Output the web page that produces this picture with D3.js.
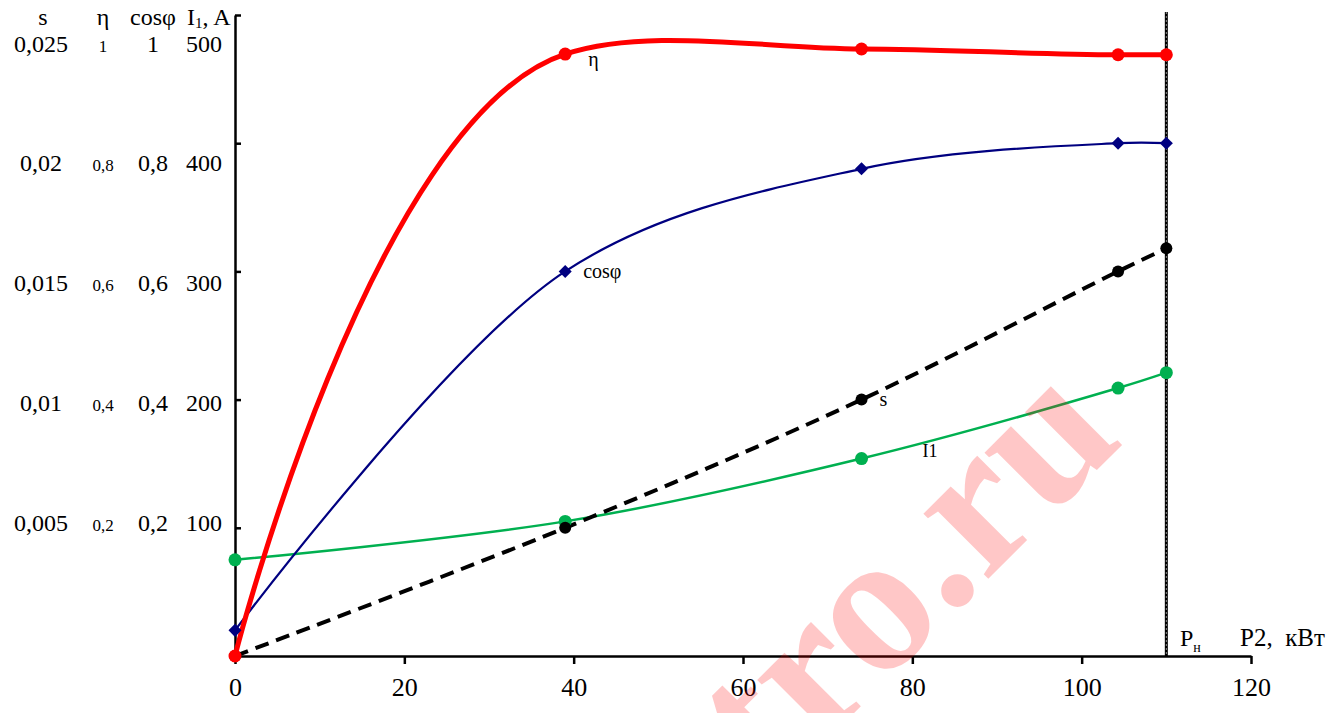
<!DOCTYPE html>
<html>
<head>
<meta charset="utf-8">
<script src="https://d3js.org/d3.v7.min.js"></script>
<style>
body { margin: 0; background: #fff; }
svg { display: block; font-family: 'Liberation Serif', 'Times New Roman', serif; }
</style>
</head>
<body>
<div id="chart"></div>
<script>
// data
var P2    = [0, 39, 74, 104.3, 110];          // kW
var eta   = [0, 0.939, 0.947, 0.938, 0.938];
var cosf  = [0.04, 0.6, 0.76, 0.8, 0.8];
var slip  = [0, 0.005, 0.01, 0.015, 0.0159];
var I1    = [75, 105, 154, 209, 221];         // A

var xTicks   = [0, 20, 40, 60, 80, 100, 120];
var iTicks   = [100, 200, 300, 400, 500];
var sLabels  = ["0,005", "0,01", "0,015", "0,02", "0,025"];
var etaLabels = ["0,2", "0,4", "0,6", "0,8", "1"];
var cosLabels = ["0,2", "0,4", "0,6", "0,8", "1"];
var Pnom = 110;

var W = 1338, H = 713;
var svg = d3.select("#chart").append("svg").attr("width", W).attr("height", H);

var x = d3.scaleLinear().domain([0, 120]).range([235, 1251]);
var yI = d3.scaleLinear().domain([0, 500]).range([656, 15]);
var yU = d3.scaleLinear().domain([0, 1]).range([656, 15]);       // eta, cos
var yS = d3.scaleLinear().domain([0, 0.025]).range([656, 15]);
// tick labels sit on their own (slightly squeezed) grid in the original
var yLab = d3.scaleLinear().domain([100, 500]).range([531, 51.5]);

// axes
var xAxis = svg.append("g").attr("transform", "translate(0,656)")
  .call(d3.axisBottom(x).tickValues(xTicks).tickSize(8).tickPadding(14).tickSizeOuter(0));
xAxis.select(".domain").attr("stroke-width", 2.5);
xAxis.selectAll(".tick line").attr("stroke-width", 2.5);
xAxis.selectAll("text").attr("font-size", 26).attr("font-family", "Liberation Serif").attr("fill", "#000");

var yAxis = svg.append("g").attr("transform", "translate(235,0)")
  .call(d3.axisRight(yI).tickValues(iTicks).tickSize(6).tickFormat("").tickSizeOuter(0));
yAxis.select(".domain").attr("stroke-width", 2.5);
yAxis.selectAll(".tick line").attr("stroke-width", 2.5);

// left label columns
var head = svg.append("g").attr("font-size", 24).attr("fill", "#000");
head.append("text").attr("x", 43).attr("y", 25).attr("text-anchor", "middle").text("s");
head.append("text").attr("x", 103).attr("y", 25).attr("text-anchor", "middle").text("η");
head.append("text").attr("x", 153).attr("y", 25).attr("text-anchor", "middle").text("cosφ");
var ih = head.append("text").attr("x", 187).attr("y", 25);
ih.append("tspan").text("I");
ih.append("tspan").attr("font-size", 15).attr("dy", 3).text("1");
ih.append("tspan").attr("dy", -3).text(", A");

var cols = svg.append("g").attr("fill", "#000");
cols.selectAll(".sl").data(iTicks).enter().append("text")
  .attr("x", 41).attr("y", function(d) { return yLab(d); })
  .attr("text-anchor", "middle").attr("font-size", 24)
  .text(function(d, i) { return sLabels[i]; });
cols.selectAll(".el").data(iTicks).enter().append("text")
  .attr("x", 103).attr("y", function(d) { return yLab(d); })
  .attr("text-anchor", "middle").attr("font-size", 17)
  .text(function(d, i) { return etaLabels[i]; });
cols.selectAll(".cl").data(iTicks).enter().append("text")
  .attr("x", 153).attr("y", function(d) { return yLab(d); })
  .attr("text-anchor", "middle").attr("font-size", 24)
  .text(function(d, i) { return cosLabels[i]; });
cols.selectAll(".il").data(iTicks).enter().append("text")
  .attr("x", 222).attr("y", function(d) { return yLab(d); })
  .attr("text-anchor", "end").attr("font-size", 24)
  .text(function(d) { return d; });

// nominal power line
svg.append("line").attr("x1", x(Pnom)).attr("x2", x(Pnom)).attr("y1", 12).attr("y2", 656)
  .attr("stroke", "#000").attr("stroke-width", 3);
svg.append("line").attr("x1", x(Pnom)).attr("x2", x(Pnom)).attr("y1", 12).attr("y2", 656)
  .attr("stroke", "#fff").attr("stroke-opacity", 0.55).attr("stroke-width", 1).attr("stroke-dasharray", "2,2");

// curves
function drawLine(vals, yScale, color, width, dash, alpha) {
  var line = d3.line().curve(d3.curveCatmullRom.alpha(alpha))
    .x(function(d, i) { return x(P2[i]); })
    .y(function(d) { return yScale(d); });
  svg.append("path").datum(vals).attr("d", line)
    .attr("fill", "none").attr("stroke", color).attr("stroke-width", width)
    .attr("stroke-dasharray", dash || null).attr("stroke-linejoin", "round");
}
drawLine(I1, yI, "#00B050", 2.5, null, 0.5);
drawLine(slip, yS, "#000", 4, "14,8", 0.5);
drawLine(cosf, yU, "#000080", 2.2, null, 0.5);
drawLine(eta, yU, "#FF0000", 5, null, 1);

// markers
svg.selectAll(".mi").data(I1).enter().append("circle")
  .attr("cx", function(d, i) { return x(P2[i]); }).attr("cy", function(d) { return yI(d); })
  .attr("r", 6.5).attr("fill", "#00B050");
svg.selectAll(".ms").data(slip).enter().append("circle")
  .attr("cx", function(d, i) { return x(P2[i]); }).attr("cy", function(d) { return yS(d); })
  .attr("r", 6).attr("fill", "#000");
svg.selectAll(".mc").data(cosf).enter().append("path")
  .attr("d", d3.symbol().type(d3.symbolSquare).size(85))
  .attr("transform", function(d, i) { return "translate(" + x(P2[i]) + "," + yU(d) + ") rotate(45)"; })
  .attr("fill", "#000080");
svg.selectAll(".me").data(eta).enter().append("circle")
  .attr("cx", function(d, i) { return x(P2[i]); }).attr("cy", function(d) { return yU(d); })
  .attr("r", 6.5).attr("fill", "#FF0000");

// curve labels
var lab = svg.append("g").attr("font-size", 20).attr("fill", "#000");
lab.append("text").attr("x", x(P2[1]) + 23).attr("y", yU(eta[1]) + 12).text("η");
lab.append("text").attr("x", x(P2[1]) + 18).attr("y", yU(cosf[1]) + 7).text("cosφ");
lab.append("text").attr("x", x(P2[2]) + 18).attr("y", yS(slip[2]) + 6).text("s");
lab.append("text").attr("x", x(P2[2]) + 61).attr("y", yI(I1[2]) - 2).attr("font-size", 18).text("I1");

// axis captions
var pn = svg.append("text").attr("x", 1180).attr("y", 646).attr("font-size", 24);
pn.append("tspan").text("P");
pn.append("tspan").attr("font-size", 14).attr("dy", 6).text("н");
svg.append("text").attr("x", 1240).attr("y", 646).attr("font-size", 25)
  .attr("xml:space", "preserve").text("P2,  кВт");

// watermark
svg.append("text").attr("transform", "translate(1126,441) rotate(-45)")
  .attr("text-anchor", "end").attr("font-size", 200).attr("font-weight", "bold")
  .attr("fill", "#FF0000").attr("fill-opacity", 0.22).text("electro.ru");
</script>
</body>
</html>
